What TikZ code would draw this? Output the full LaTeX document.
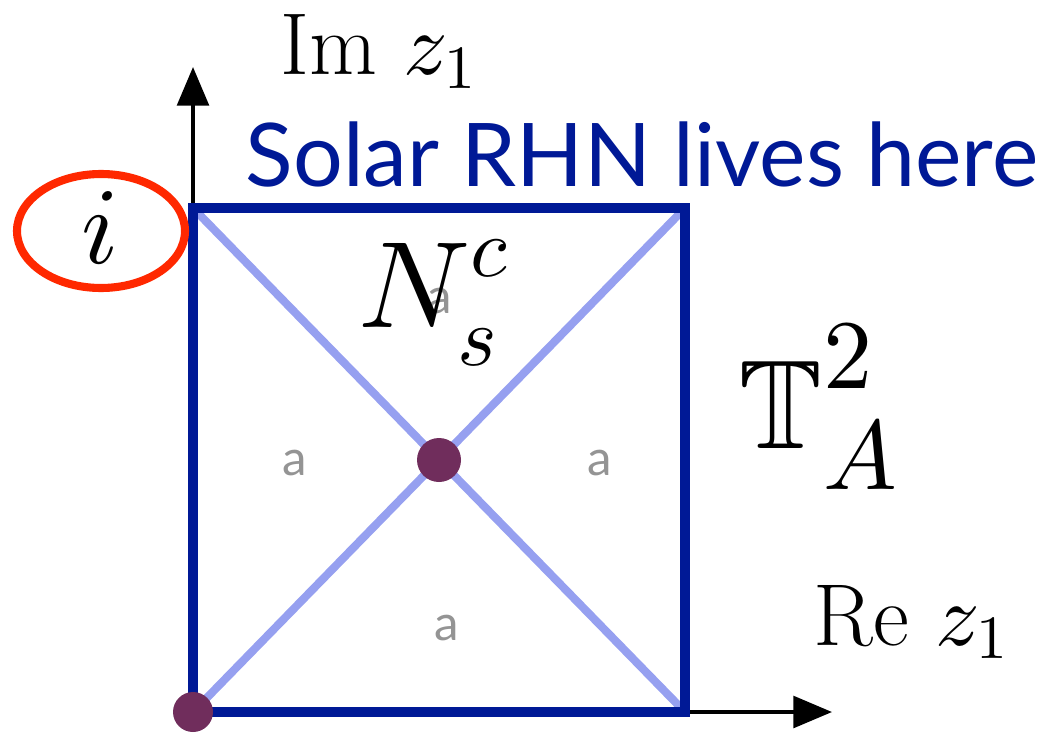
\documentclass[tikz,border=0pt]{standalone}
\usepackage{amsmath}
\usepackage{amssymb}
\usepackage{fontspec}
\newfontfamily\labelfont{Lato}
\usetikzlibrary{arrows.meta}

% scalable math fonts
\DeclareFontShape{OML}{cmm}{m}{it}{<->cmmi10}{}
\DeclareFontShape{OT1}{cmr}{m}{n}{<->cmr10}{}
\DeclareFontShape{OMS}{cmsy}{m}{n}{<->cmsy10}{}
\DeclareFontShape{OMX}{cmex}{m}{n}{<->cmex10}{}
\DeclareMathSizes{35}{35}{24}{17}
\DeclareMathSizes{36}{36}{28}{20}

\definecolor{boxblue}{RGB}{0,25,150}
\definecolor{diagblue}{RGB}{150,160,240}
\definecolor{dotpurple}{RGB}{112,45,92}
\definecolor{ringred}{RGB}{255,40,0}

\begin{document}
\begin{tikzpicture}[
    every node/.style={inner sep=0pt},
    >={Triangle[length=11pt,width=9pt]},
    axis/.style={->, line width=1.1pt, black},
    small a/.style={font=\labelfont\fontsize{14}{14}\selectfont, text=black!42},
]

% Parameters
\def\L{1.93}
\def\R{6.85}
\def\B{0.21}
\def\T{5.25}

\useasboundingbox (0,0) rectangle (10.49,7.33);

% === Corners of the fundamental domain ===
\coordinate (O) at (\L,\B);
\coordinate (BR) at (\R,\B);
\coordinate (TR) at (\R,\T);
\coordinate (TL) at (\L,\T);
\coordinate (M) at ({(\L+\R)/2},{(\B+\T)/2});
\coordinate (ImTip) at (\L,6.66);
\coordinate (ReTip) at (8.32,\B);

% Axes
\draw[axis] (O) -- (ImTip);
\draw[axis] (O) -- (ReTip);

% Diagonals
\draw[diagblue, line width=2.3pt] (O) -- (TR);
\draw[diagblue, line width=2.3pt] (TL) -- (BR);

% gray labels of the four triangles
\node[small a, anchor=base] (aT) at (4.40,4.20) {a};
\node[small a, anchor=base] (aL) at (2.95,2.58) {a};
\node[small a, anchor=base] (aR) at (6.00,2.58) {a};
\node[small a, anchor=base] (aB) at (4.47,0.93) {a};

% Square
\draw[boxblue, line width=2.9pt] (O) rectangle (TR);

% Fixed points
\fill[dotpurple] (M) circle (0.22);
\fill[dotpurple] (O) circle (0.2);

% === Labels ===
\node[anchor=base west, font=\fontsize{25}{25}\selectfont] (Im) at (2.80,6.58) {$\mathrm{Im}\ z_1$};
\node[anchor=base west, font=\fontsize{25}{25}\selectfont] (Re) at (8.13,0.88) {$\mathrm{Re}\ z_1$};
\node[anchor=base, font=\labelfont\fontsize{25}{25}\selectfont, text=boxblue] (solar) at (6.42,5.46) {Solar RHN lives here};
\node[anchor=base west, font=\fontsize{35}{35}\selectfont] (Ns) at (3.58,4.05)
    {$N_{\raisebox{-2pt}{$\scriptstyle s$}}^{\raisebox{2pt}{$\scriptstyle c$}}$};
\node[anchor=base west, font=\fontsize{36}{36}\selectfont] (TA) at (7.38,2.85)
    {$\mathbb{T}_A^{\raisebox{4pt}{$\scriptstyle 2$}}$};
\node[font=\fontsize{31}{31}\selectfont] (i) at (1.00,5.05) {$i$};
\draw[ringred, line width=2.3pt] (1.01,5.02) ellipse (0.84 and 0.57);

\end{tikzpicture}
\end{document}
